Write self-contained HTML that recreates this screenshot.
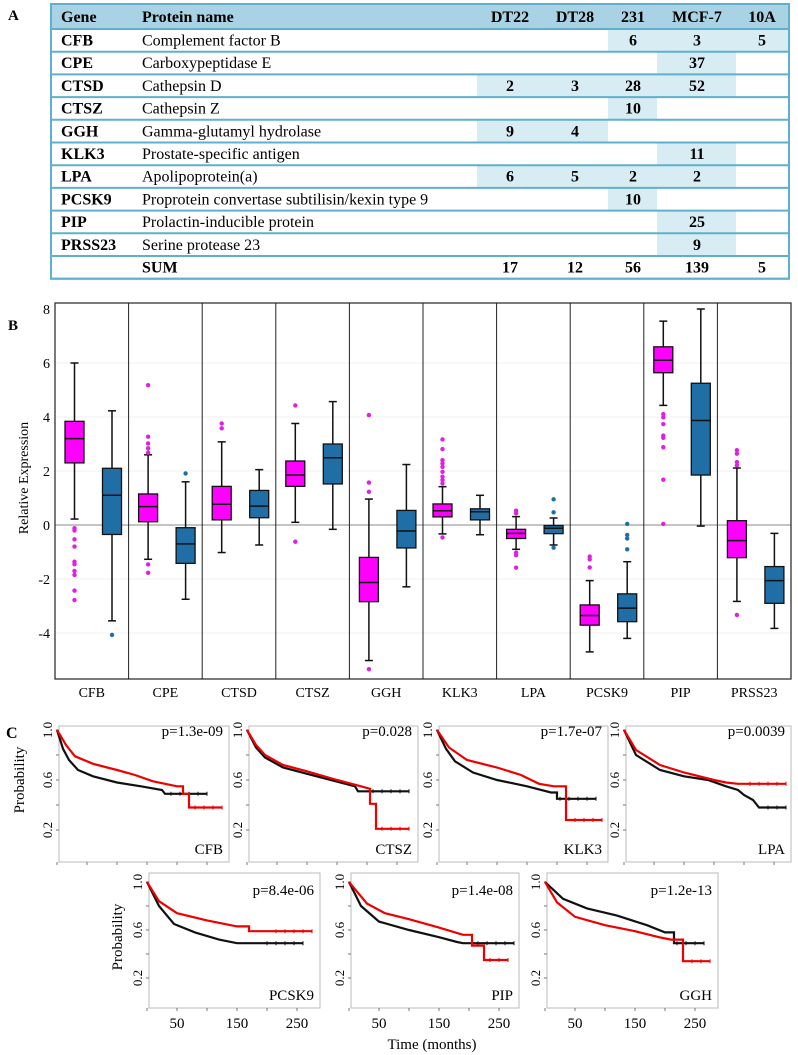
<!DOCTYPE html>
<html><head><meta charset="utf-8"><style>
body{margin:0;background:#fff}
svg{display:block;font-family:"Liberation Serif",serif}
</style></head><body>
<svg id="fig" width="798" height="1055" viewBox="0 0 798 1055" xmlns="http://www.w3.org/2000/svg">
<g id="tbl"></g>
<g id="box"></g>
<g id="km"></g>
</svg>
<script>
const NS="http://www.w3.org/2000/svg";
function mk(tag,attrs,parent,txt){const e=document.createElementNS(NS,tag);for(const k in attrs)e.setAttribute(k,attrs[k]);if(txt!==undefined)e.textContent=txt;parent.appendChild(e);return e;}

// ---------- Panel A table data ----------
const genes=["CFB","CPE","CTSD","CTSZ","GGH","KLK3","LPA","PCSK9","PIP","PRSS23"];
const proteins=["Complement factor B","Carboxypeptidase E","Cathepsin D","Cathepsin Z","Gamma-glutamyl hydrolase","Prostate-specific antigen","Apolipoprotein(a)","Proprotein convertase subtilisin/kexin type 9","Prolactin-inducible protein","Serine protease 23"];
const cellLines=["DT22","DT28","231","MCF-7","10A"];
const counts=[[null,null,6,3,5],[null,null,null,37,null],[2,3,28,52,null],[null,null,10,null,null],[9,4,null,null,null],[null,null,null,11,null],[6,5,2,2,null],[null,null,10,null,null],[null,null,null,25,null],[null,null,null,9,null]];
const sums=[17,12,56,139,5];

// ---------- Panel B box data: [whiskLow,Q1,median,Q3,whiskHigh] ----------
const boxGenes=["CFB","CPE","CTSD","CTSZ","GGH","KLK3","LPA","PCSK9","PIP","PRSS23"];
const pinkStats=[[0.22,2.3,3.2,3.84,6.0],[-1.27,0.12,0.68,1.15,2.6],[-1.02,0.19,0.77,1.43,3.08],[0.1,1.43,1.85,2.37,3.76],[-5.02,-2.84,-2.13,-1.2,0.96],[-0.33,0.3,0.53,0.78,1.42],[-0.9,-0.5,-0.31,-0.16,0.31],[-4.7,-3.71,-3.35,-2.96,-2.06],[4.43,5.64,6.1,6.6,7.55],[-2.83,-1.21,-0.58,0.16,2.11]];
const blueStats=[[-3.55,-0.35,1.1,2.1,4.23],[-2.75,-1.42,-0.7,-0.1,1.6],[-0.74,0.27,0.7,1.28,2.05],[-0.16,1.52,2.49,3.0,4.57],[-2.29,-0.85,-0.22,0.54,2.24],[-0.36,0.19,0.49,0.6,1.1],[-0.74,-0.32,-0.12,-0.02,0.26],[-4.2,-3.58,-3.08,-2.55,-1.36],[-0.04,1.85,3.87,5.25,8.0],[-3.83,-2.9,-2.06,-1.54,-0.31]];
const pinkOutliers=[[-0.12,-0.2,-0.53,-0.8,-1.36,-1.45,-1.7,-1.85,-2.43,-2.78],[5.18,3.27,3.02,2.84,2.68,-1.46,-1.77],[3.76,3.58],[4.43,-0.62],[4.07,1.57,1.23,-5.34],[3.17,2.81,2.4,2.28,2.15,1.97,1.79,1.67,1.54,-0.46],[0.53,0.43,-1.02,-1.12,-1.58],[-1.17,-1.27,-1.57],[4.11,3.99,3.74,3.31,3.23,2.88,1.68,0.04],[2.77,2.64,2.33,2.21,-3.33]];
const blueOutliers=[[-4.07],[1.91],[],[],[],[],[0.95,0.47,-0.84],[0.04,-0.37,-0.5,-0.9],[],[]];
const yTicks=[-4,-2,0,2,4,6,8];

// ---------- Panel C survival data: [months, probability] ----------
const kmGenes=["CFB","CTSZ","KLK3","LPA","PCSK9","PIP","GGH"];
const kmP=["p=1.3e-09","p=0.028","p=1.7e-07","p=0.0039","p=8.4e-06","p=1.4e-08","p=1.2e-13"];
const kmRed=[
[[0,1],[15,0.88],[30,0.79],[60,0.73],[100,0.68],[130,0.64],[160,0.59],[200,0.55],[210,0.55],[210,0.49],[220,0.49],[220,0.38],[275,0.38]],
[[0,1],[15,0.88],[30,0.8],[60,0.72],[100,0.67],[150,0.6],[190,0.55],[205,0.53],[205,0.41],[215,0.41],[215,0.21],[270,0.21]],
[[0,1],[20,0.86],[50,0.76],[100,0.7],[140,0.64],[170,0.57],[195,0.55],[215,0.55],[215,0.28],[275,0.28]],
[[0,1],[20,0.84],[60,0.72],[100,0.66],[150,0.6],[170,0.58],[190,0.57],[270,0.57]],
[[0,1],[20,0.84],[50,0.74],[100,0.68],[150,0.63],[170,0.63],[170,0.59],[275,0.59]],
[[0,1],[30,0.82],[60,0.74],[100,0.69],[150,0.62],[190,0.56],[205,0.56],[205,0.47],[225,0.47],[225,0.35],[265,0.35]],
[[0,1],[20,0.83],[50,0.71],[100,0.64],[150,0.59],[190,0.54],[210,0.52],[230,0.52],[230,0.34],[275,0.34]]];
const kmBlack=[
[[0,1],[10,0.85],[20,0.76],[35,0.68],[60,0.63],[100,0.58],[140,0.55],[175,0.52],[180,0.49],[250,0.49]],
[[0,1],[15,0.86],[30,0.78],[60,0.7],[100,0.65],[140,0.6],[180,0.55],[185,0.51],[270,0.51]],
[[0,1],[15,0.85],[30,0.75],[60,0.66],[100,0.6],[150,0.55],[190,0.5],[200,0.5],[200,0.45],[265,0.45]],
[[0,1],[20,0.8],[60,0.68],[100,0.63],[140,0.6],[170,0.55],[190,0.52],[200,0.48],[215,0.44],[225,0.38],[270,0.38]],
[[0,1],[20,0.8],[45,0.65],[80,0.58],[120,0.52],[150,0.49],[260,0.49]],
[[0,1],[20,0.8],[50,0.67],[100,0.6],[150,0.54],[180,0.5],[190,0.49],[275,0.49]],
[[0,1],[30,0.86],[70,0.78],[120,0.72],[170,0.64],[200,0.58],[215,0.58],[215,0.49],[265,0.49]]];
const timeTicks=[50,150,250];

// ================= Panel A =================
(function(){
const g=document.getElementById('tbl');
const L=51,R=789,T=4,hH=25,rH=22.7;
const colX=[477,542,608,657,736,789];
const colC=[510,575,633,697,762];
const nRows=genes.length+1;
const B=T+hH+nRows*rH;
let t=mk('text',{x:8,y:20,'font-size':15,'font-weight':'bold'},g,'A');

let hb=mk('rect',{x:L,y:T,width:R-L,height:hH,fill:'#a9d3e5'},g);

const hy=T+18;
mk('text',{x:61,y:hy,'font-size':16,'font-weight':'bold'},g,'Gene');
mk('text',{x:142,y:hy,'font-size':16,'font-weight':'bold'},g,'Protein name');
cellLines.forEach((c,i)=>{const e=mk('text',{x:colC[i],y:hy,'font-size':16,'font-weight':'bold','text-anchor':'middle'},g,c);});
genes.forEach((gn,r)=>{
  const y0=T+hH+r*rH;
  counts[r].forEach((v,c)=>{if(v!==null){mk('rect',{x:colX[c],y:y0,width:colX[c+1]-colX[c],height:rH,fill:'#d8ecf4'},g);}});
  const yt=y0+16.5;
  const ge=mk('text',{x:61,y:yt,'font-size':16,'font-weight':'bold'},g,gn);
  
  mk('text',{x:142,y:yt,'font-size':16},g,proteins[r]);
  counts[r].forEach((v,c)=>{if(v!==null){mk('text',{x:colC[c],y:yt,'font-size':16,'font-weight':'bold','text-anchor':'middle'},g,String(v));}});
});
const ys=T+hH+genes.length*rH+16.5;
mk('text',{x:142,y:ys,'font-size':16,'font-weight':'bold'},g,'SUM');
sums.forEach((v,c)=>mk('text',{x:colC[c],y:ys,'font-size':16,'font-weight':'bold','text-anchor':'middle'},g,String(v)));
for(let r=0;r<=nRows;r++){const y=T+hH+r*rH;mk('line',{x1:L,x2:R,y1:y,y2:y,stroke:'#5fb0cc','stroke-width':2},g);}
let fr=mk('rect',{x:L,y:T,width:R-L,height:B-T,fill:'none',stroke:'#5fb0cc','stroke-width':2},g);

})();

// ================= Panel B =================
(function(){
const g=document.getElementById('box');
const L=55,R=791,T=303,Bt=679;
const Y=v=>525-v*27;
const pw=(R-L)/boxGenes.length;
let t=mk('text',{x:8,y:330,'font-size':15,'font-weight':'bold'},g,'B');

yTicks.forEach(v=>{
  if(v!==0&&v!==8)mk('line',{x1:L,x2:R,y1:Y(v),y2:Y(v),stroke:'#f0f0f0','stroke-width':1},g);
  const e=mk('text',{x:50,y:Y(v)+5,'font-size':14,'text-anchor':'end'},g,String(v));
  
});
mk('line',{x1:L,x2:R,y1:Y(0),y2:Y(0),stroke:'#888','stroke-width':1},g);
const yt=mk('text',{x:0,y:0,'font-size':14,'text-anchor':'middle',transform:'translate(28,478) rotate(-90)'},g,'Relative Expression');

function drawBox(cx,s,fill,outs,oc,name){
  const w=19;
  const bg=mk('g',{},g);
  
  mk('line',{x1:cx,x2:cx,y1:Y(s[0]),y2:Y(s[4]),stroke:'#111','stroke-width':1.5},bg);
  mk('line',{x1:cx-4,x2:cx+4,y1:Y(s[0]),y2:Y(s[0]),stroke:'#111','stroke-width':1.5},bg);
  mk('line',{x1:cx-4,x2:cx+4,y1:Y(s[4]),y2:Y(s[4]),stroke:'#111','stroke-width':1.5},bg);
  mk('rect',{x:cx-w/2,y:Y(s[3]),width:w,height:Y(s[1])-Y(s[3]),fill:fill,stroke:'#111','stroke-width':1.3},bg);
  mk('line',{x1:cx-w/2,x2:cx+w/2,y1:Y(s[2]),y2:Y(s[2]),stroke:'#111','stroke-width':1.5},bg);
  outs.forEach(v=>mk('circle',{cx:cx,cy:Y(v),r:2.2,fill:oc},bg));
}
boxGenes.forEach((gn,i)=>{
  const x0=L+i*pw;
  if(i>0)mk('line',{x1:x0,x2:x0,y1:T,y2:Bt,stroke:'#222','stroke-width':1},g);
  drawBox(x0+19.5,pinkStats[i],'#ff00ff',pinkOutliers[i],'#e020e0','box-'+gn.toLowerCase()+'-pink');
  drawBox(x0+57,blueStats[i],'#1f6fa6',blueOutliers[i],'#1f6fa6','box-'+gn.toLowerCase()+'-blue');
  const lb=mk('text',{x:x0+pw/2,y:697,'font-size':14,'text-anchor':'middle'},g,gn);
  
});
const fr=mk('rect',{x:L,y:T,width:R-L,height:Bt-T,fill:'none',stroke:'#222','stroke-width':1.2},g);

})();

// ================= Panel C =================
(function(){
const g=document.getElementById('km');
let t=mk('text',{x:6,y:738,'font-size':16,'font-weight':'bold'},g,'C');

const frames=[[59,229,726,862,730,50],[249,418,726,862,730,50],[439,608,726,862,730,50],[626,791,726,862,730,50],
[149,320,873,1008,882,48],[351,519,873,1008,882,48],[547,718,873,1008,882,48]];
frames.forEach((f,i)=>{
  const [l,r,top,bot,y1,s]=f;
  const X=m=>l-2+m*0.6;
  const P=p=>y1+(1-p)*(s/0.4);
  const pg=mk('g',{},g);
  
  mk('rect',{x:l,y:top,width:r-l,height:bot-top,fill:'none',stroke:'#bbb','stroke-width':1},pg);
  [0.2,0.4,0.6,0.8,1.0].forEach(p=>mk('line',{x1:l-3,x2:l,y1:P(p),y2:P(p),stroke:'#777'},pg));
  [0,50,100,150,200,250].forEach(m=>mk('line',{x1:X(m),x2:X(m),y1:bot,y2:bot+3,stroke:'#777'},pg));
  [[1.0,'1.0'],[0.6,'0.6'],[0.2,'0.2']].forEach(([p,s2])=>mk('text',{x:0,y:0,'font-size':13,'text-anchor':'middle',transform:`translate(${l-7},${P(p)}) rotate(-90)`},pg,s2));
  [[kmBlack[i],'#111','black'],[kmRed[i],'#e00','red']].forEach(([d,c,nm])=>{
    const pl=mk('polyline',{points:d.map(q=>X(q[0]).toFixed(1)+','+P(q[1]).toFixed(1)).join(' '),fill:'none',stroke:c,'stroke-width':2.2},pg);
    
    const last=d[d.length-1];
    for(let m=last[0]-60;m<=last[0];m+=15){ if(m>d[d.length-2][0]) mk('line',{x1:X(m),x2:X(m),y1:P(last[1])-2,y2:P(last[1])+2,stroke:c},pg);}
  });
  mk('text',{x:r-6,y:top+(i<4?10:22),'font-size':15,'text-anchor':'end'},pg,kmP[i]);
  mk('text',{x:r-6,y:bot-8,'font-size':15,'text-anchor':'end'},pg,kmGenes[i]);
  if(i>=4)timeTicks.forEach(m=>mk('text',{x:X(m),y:1028,'font-size':15,'text-anchor':'middle'},pg,String(m)));
});
const p1=mk('text',{x:0,y:0,'font-size':15,'text-anchor':'middle',transform:'translate(24,780) rotate(-90)'},g,'Probability');

const p2=mk('text',{x:0,y:0,'font-size':15,'text-anchor':'middle',transform:'translate(122,937) rotate(-90)'},g,'Probability');

const tt=mk('text',{x:432,y:1049,'font-size':15,'text-anchor':'middle'},g,'Time (months)');

})();
</script>
</body></html>
